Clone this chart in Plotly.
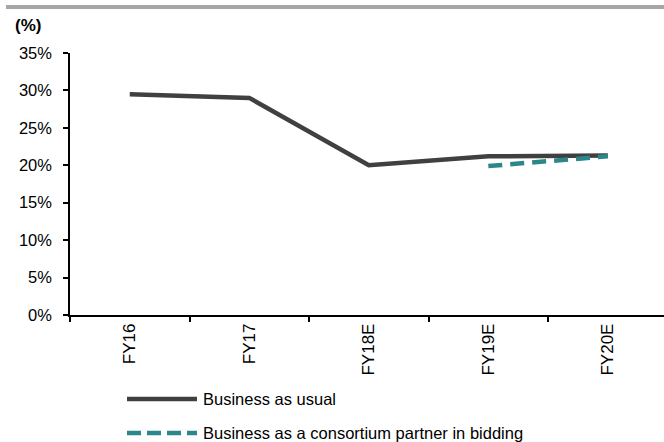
import plotly.graph_objects as go

# Fiscal years and margin series (%)
years = ["FY16", "FY17", "FY18E", "FY19E", "FY20E"]
business_as_usual = [29.5, 29.0, 20.0, 21.2, 21.3]
consortium_years = ["FY19E", "FY20E"]
consortium_partner = [19.9, 21.2]

series_names = ["Business as usual", "Business as a consortium partner in bidding"]
y_ticks = [0, 5, 10, 15, 20, 25, 30, 35]
y_tick_labels = [f"{v}%" for v in y_ticks]

DARK = "#404040"
TEAL = "#2b878a"
FONT = "Liberation Sans, Arial, sans-serif"

W, H = 664, 442
L, R, T, B = 70, 0, 53, 127
plot_w = W - L - R
plot_h = H - T - B


def px_x(px):
    return (px - L) / plot_w


def px_y(py):
    return (H - B - py) / plot_h


fig = go.Figure()
fig.add_trace(go.Scatter(
    x=years, y=business_as_usual, mode="lines", name=series_names[0],
    line=dict(color=DARK, width=4.5), showlegend=False,
))
fig.add_trace(go.Scatter(
    x=consortium_years, y=consortium_partner, mode="lines", name=series_names[1],
    line=dict(color=TEAL, width=4.5, dash="14px,8px"), showlegend=False,
))

shapes = [
    # grey rule across the top
    dict(type="line", xref="paper", yref="paper",
         x0=px_x(6), x1=px_x(664), y0=px_y(7), y1=px_y(7),
         line=dict(color="#a6a6a6", width=4)),
    # legend samples
    dict(type="line", xref="paper", yref="paper",
         x0=px_x(127), x1=px_x(197), y0=px_y(399), y1=px_y(399),
         line=dict(color=DARK, width=4.5)),
    dict(type="line", xref="paper", yref="paper",
         x0=px_x(127), x1=px_x(197), y0=px_y(433), y1=px_y(433),
         line=dict(color=TEAL, width=4.5, dash="14px,6px")),
]

annotations = [
    dict(text="<b>(%)</b>", xref="paper", yref="paper",
         x=px_x(13), y=px_y(25), xanchor="left", yanchor="middle",
         showarrow=False, font=dict(family=FONT, size=17, color="#000")),
    dict(text=series_names[0], xref="paper", yref="paper",
         x=px_x(201), y=px_y(399), xanchor="left", yanchor="middle",
         showarrow=False, font=dict(family=FONT, size=16.5, color="#000")),
    dict(text=series_names[1], xref="paper", yref="paper",
         x=px_x(201), y=px_y(433), xanchor="left", yanchor="middle",
         showarrow=False, font=dict(family=FONT, size=16.5, color="#000")),
]

fig.update_layout(
    width=W, height=H,
    margin=dict(l=L, r=R, t=T, b=B),
    paper_bgcolor="white", plot_bgcolor="white",
    font=dict(family=FONT, size=16, color="#000"),
    shapes=shapes, annotations=annotations,
    showlegend=False,
)
fig.update_xaxes(
    type="category", categoryorder="array", categoryarray=years,
    range=[-0.5, 4.47],
    showline=True, linecolor="#000", linewidth=1.5,
    ticks="outside", ticklen=5, tickwidth=1.5, tickcolor="#000",
    tickson="boundaries", tickangle=-90,
    showgrid=False, zeroline=False,
    tickfont=dict(family=FONT, size=17),
)
fig.update_yaxes(
    range=[0, 35], tickvals=y_ticks, ticktext=y_tick_labels,
    showline=True, linecolor="#000", linewidth=1.5,
    ticks="outside", ticklen=5, tickwidth=1.5, tickcolor="#000",
    ticklabelstandoff=8,
    showgrid=False, zeroline=False,
    tickfont=dict(family=FONT, size=16.5),
)

fig.write_html("out.html")
